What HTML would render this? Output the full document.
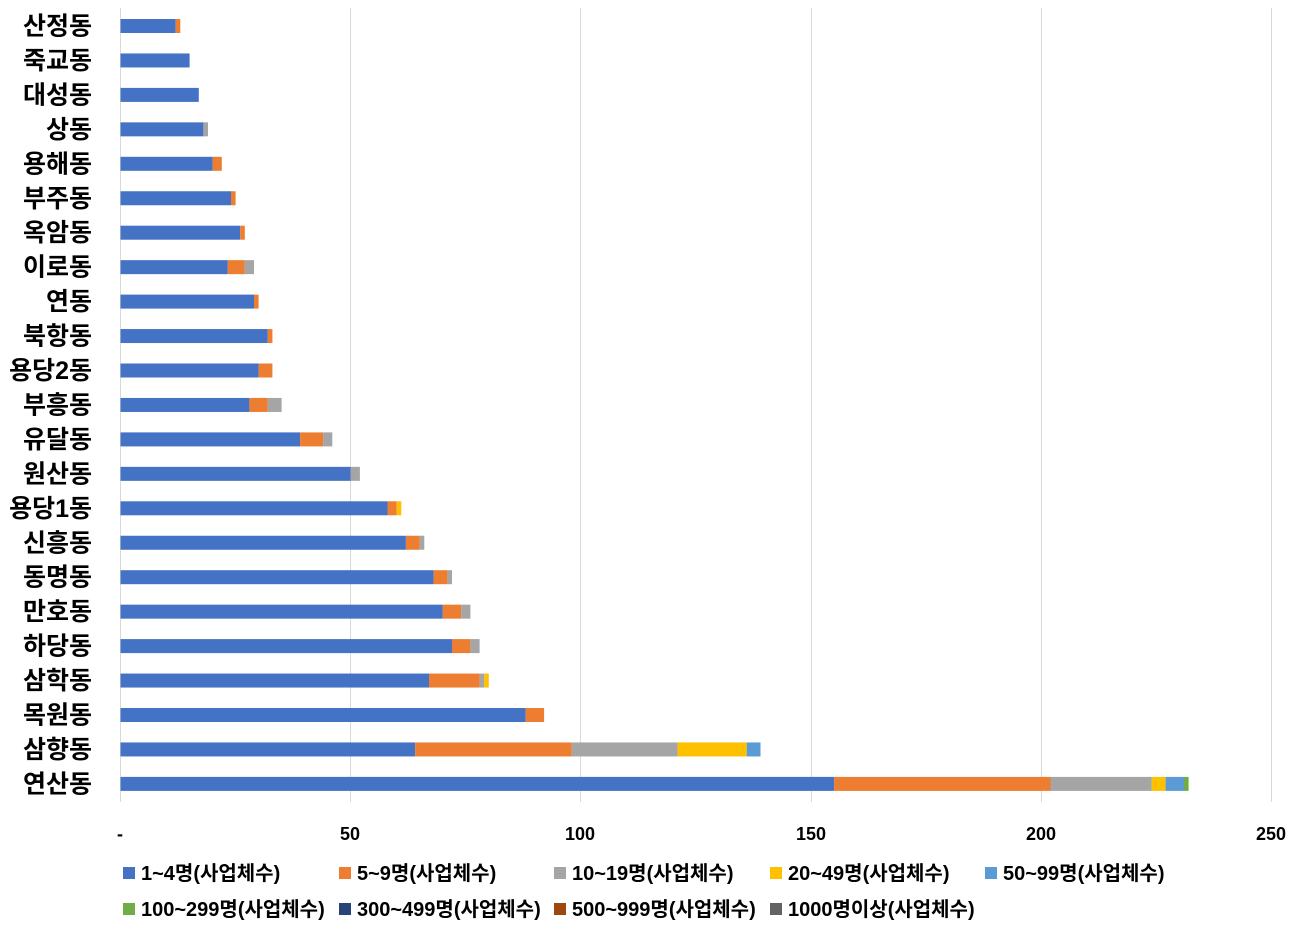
<!DOCTYPE html>
<html><head><meta charset="utf-8"><style>
body{margin:0;background:#fff;}
svg text{font-family:"Liberation Sans","Noto Sans CJK KR",sans-serif;}
</style></head><body>
<svg width="1308" height="934" xmlns="http://www.w3.org/2000/svg">
<g stroke="#d9d9d9" stroke-width="1">
<line x1="120.5" y1="8" x2="120.5" y2="802"/>
<line x1="350.5" y1="8" x2="350.5" y2="802"/>
<line x1="580.5" y1="8" x2="580.5" y2="802"/>
<line x1="811.5" y1="8" x2="811.5" y2="802"/>
<line x1="1041.5" y1="8" x2="1041.5" y2="802"/>
<line x1="1271.5" y1="8" x2="1271.5" y2="802"/>
</g>
<g>
<rect x="120.5" y="19" width="55.2" height="14" fill="#4472C4"/><rect x="175.7" y="19" width="4.6" height="14" fill="#ED7D31"/>
<rect x="120.5" y="53.45" width="69.1" height="14" fill="#4472C4"/>
<rect x="120.5" y="87.9" width="78.3" height="14" fill="#4472C4"/>
<rect x="120.5" y="122.35" width="82.9" height="14" fill="#4472C4"/><rect x="203.4" y="122.35" width="4.6" height="14" fill="#A5A5A5"/>
<rect x="120.5" y="156.8" width="92.1" height="14" fill="#4472C4"/><rect x="212.6" y="156.8" width="9.2" height="14" fill="#ED7D31"/>
<rect x="120.5" y="191.25" width="110.5" height="14" fill="#4472C4"/><rect x="231" y="191.25" width="4.6" height="14" fill="#ED7D31"/>
<rect x="120.5" y="225.7" width="119.7" height="14" fill="#4472C4"/><rect x="240.2" y="225.7" width="4.6" height="14" fill="#ED7D31"/>
<rect x="120.5" y="260.15" width="107.3" height="14" fill="#4472C4"/><rect x="227.8" y="260.15" width="17" height="14" fill="#ED7D31"/><rect x="244.8" y="260.15" width="9.2" height="14" fill="#A5A5A5"/>
<rect x="120.5" y="294.6" width="133.5" height="14" fill="#4472C4"/><rect x="254" y="294.6" width="4.6" height="14" fill="#ED7D31"/>
<rect x="120.5" y="329.05" width="147.3" height="14" fill="#4472C4"/><rect x="267.8" y="329.05" width="4.6" height="14" fill="#ED7D31"/>
<rect x="120.5" y="363.5" width="138.1" height="14" fill="#4472C4"/><rect x="258.6" y="363.5" width="13.8" height="14" fill="#ED7D31"/>
<rect x="120.5" y="397.95" width="128.9" height="14" fill="#4472C4"/><rect x="249.4" y="397.95" width="18.4" height="14" fill="#ED7D31"/><rect x="267.8" y="397.95" width="13.8" height="14" fill="#A5A5A5"/>
<rect x="120.5" y="432.4" width="179.6" height="14" fill="#4472C4"/><rect x="300.1" y="432.4" width="23" height="14" fill="#ED7D31"/><rect x="323.1" y="432.4" width="9.2" height="14" fill="#A5A5A5"/>
<rect x="120.5" y="466.85" width="230.2" height="14" fill="#4472C4"/><rect x="350.7" y="466.85" width="9.2" height="14" fill="#A5A5A5"/>
<rect x="120.5" y="501.3" width="267" height="14" fill="#4472C4"/><rect x="387.5" y="501.3" width="9.2" height="14" fill="#ED7D31"/><rect x="396.7" y="501.3" width="4.6" height="14" fill="#FFC000"/>
<rect x="120.5" y="535.75" width="285.4" height="14" fill="#4472C4"/><rect x="405.9" y="535.75" width="13.8" height="14" fill="#ED7D31"/><rect x="419.7" y="535.75" width="4.6" height="14" fill="#A5A5A5"/>
<rect x="120.5" y="570.2" width="313.1" height="14" fill="#4472C4"/><rect x="433.6" y="570.2" width="13.8" height="14" fill="#ED7D31"/><rect x="447.4" y="570.2" width="4.6" height="14" fill="#A5A5A5"/>
<rect x="120.5" y="604.65" width="322.3" height="14" fill="#4472C4"/><rect x="442.8" y="604.65" width="18.4" height="14" fill="#ED7D31"/><rect x="461.2" y="604.65" width="9.2" height="14" fill="#A5A5A5"/>
<rect x="120.5" y="639.1" width="331.5" height="14" fill="#4472C4"/><rect x="452" y="639.1" width="18.4" height="14" fill="#ED7D31"/><rect x="470.4" y="639.1" width="9.2" height="14" fill="#A5A5A5"/>
<rect x="120.5" y="673.55" width="308.5" height="14" fill="#4472C4"/><rect x="429" y="673.55" width="50.6" height="14" fill="#ED7D31"/><rect x="479.6" y="673.55" width="4.6" height="14" fill="#A5A5A5"/><rect x="484.2" y="673.55" width="4.6" height="14" fill="#FFC000"/>
<rect x="120.5" y="708" width="405.2" height="14" fill="#4472C4"/><rect x="525.7" y="708" width="18.4" height="14" fill="#ED7D31"/>
<rect x="120.5" y="742.45" width="294.7" height="14" fill="#4472C4"/><rect x="415.2" y="742.45" width="156.5" height="14" fill="#ED7D31"/><rect x="571.7" y="742.45" width="105.9" height="14" fill="#A5A5A5"/><rect x="677.6" y="742.45" width="69.1" height="14" fill="#FFC000"/><rect x="746.7" y="742.45" width="13.8" height="14" fill="#5B9BD5"/>
<rect x="120.5" y="776.9" width="713.6" height="14" fill="#4472C4"/><rect x="834.1" y="776.9" width="216.4" height="14" fill="#ED7D31"/><rect x="1050.5" y="776.9" width="101.3" height="14" fill="#A5A5A5"/><rect x="1151.8" y="776.9" width="13.8" height="14" fill="#FFC000"/><rect x="1165.6" y="776.9" width="18.4" height="14" fill="#5B9BD5"/><rect x="1184" y="776.9" width="4.6" height="14" fill="#70AD47"/>
</g>
<g font-size="25" font-weight="bold" fill="#000" text-anchor="end">
<text x="92" y="34.5">산정동</text><text x="92" y="68.95">죽교동</text><text x="92" y="103.4">대성동</text>
<text x="92" y="137.85">상동</text><text x="92" y="172.3">용해동</text><text x="92" y="206.75">부주동</text>
<text x="92" y="241.2">옥암동</text><text x="92" y="275.65">이로동</text><text x="92" y="310.1">연동</text>
<text x="92" y="344.55">북항동</text><text x="92" y="379">용당2동</text><text x="92" y="413.45">부흥동</text>
<text x="92" y="447.9">유달동</text><text x="92" y="482.35">원산동</text><text x="92" y="516.8">용당1동</text>
<text x="92" y="551.25">신흥동</text><text x="92" y="585.7">동명동</text><text x="92" y="620.15">만호동</text>
<text x="92" y="654.6">하당동</text><text x="92" y="689.05">삼학동</text><text x="92" y="723.5">목원동</text>
<text x="92" y="757.95">삼향동</text><text x="92" y="792.4">연산동</text>
</g>
<g font-size="18" font-weight="bold" fill="#000" text-anchor="middle">
<text x="120" y="840">-</text><text x="350" y="840">50</text><text x="580" y="840">100</text>
<text x="811" y="840">150</text><text x="1041" y="840">200</text><text x="1271" y="840">250</text>
</g>
<g font-size="20" font-weight="bold" fill="#000">
<rect x="123" y="867" width="12" height="12" fill="#4472C4"/><text x="141" y="880">1~4명(사업체수)</text>
<rect x="339" y="867" width="12" height="12" fill="#ED7D31"/><text x="357" y="880">5~9명(사업체수)</text>
<rect x="554" y="867" width="12" height="12" fill="#A5A5A5"/><text x="572" y="880">10~19명(사업체수)</text>
<rect x="770" y="867" width="12" height="12" fill="#FFC000"/><text x="788" y="880">20~49명(사업체수)</text>
<rect x="985" y="867" width="12" height="12" fill="#5B9BD5"/><text x="1003" y="880">50~99명(사업체수)</text>
<rect x="123" y="903" width="12" height="12" fill="#70AD47"/><text x="141" y="916">100~299명(사업체수)</text>
<rect x="339" y="903" width="12" height="12" fill="#264478"/><text x="357" y="916">300~499명(사업체수)</text>
<rect x="554" y="903" width="12" height="12" fill="#9E480E"/><text x="572" y="916">500~999명(사업체수)</text>
<rect x="770" y="903" width="12" height="12" fill="#636363"/><text x="788" y="916">1000명이상(사업체수)</text>
</g>
</svg>
</body></html>
